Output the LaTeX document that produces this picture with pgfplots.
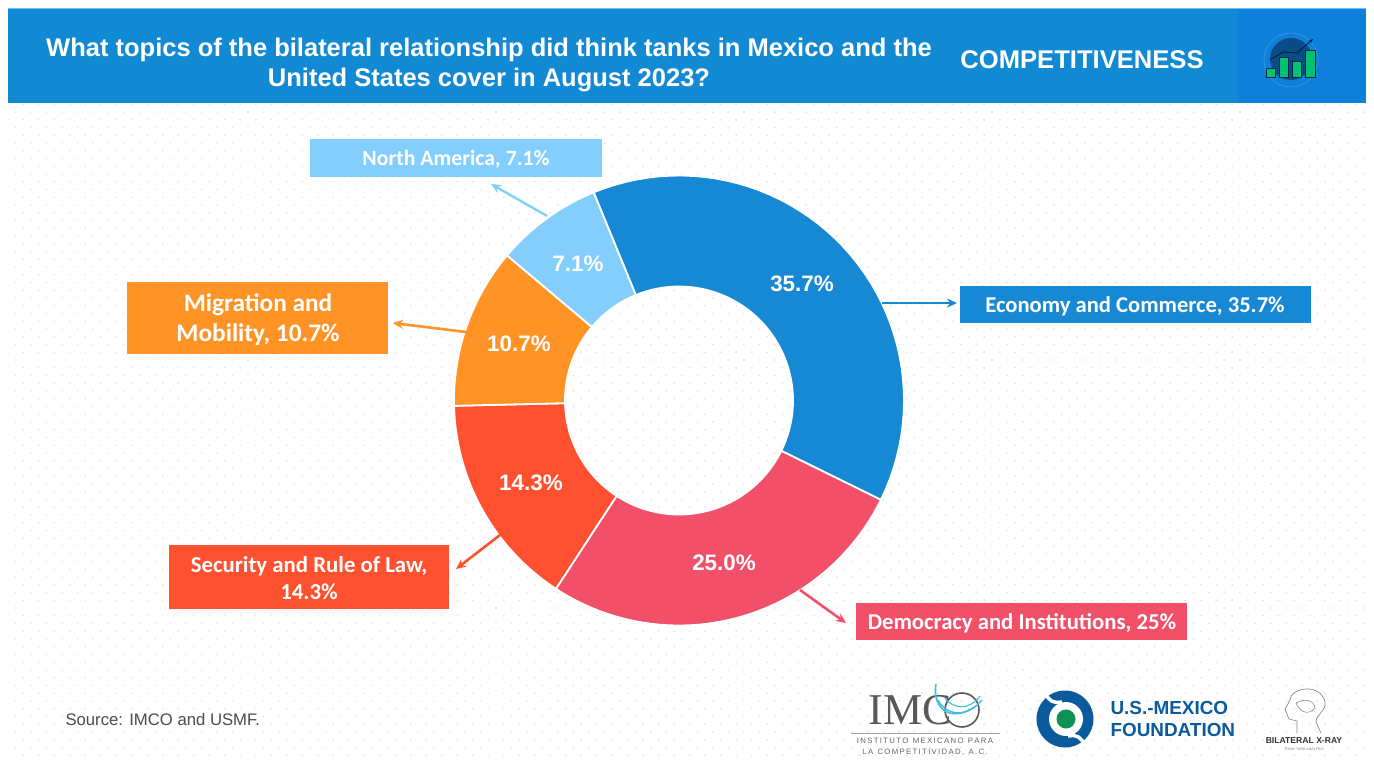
\documentclass[border=0pt]{standalone}
\usepackage{pgfplots}
\pgfplotsset{compat=1.18}
\usepackage{fontspec}
\setmainfont{Liberation Sans}
\newfontfamily\carl{Carlito}
\newfontfamily\lserif{Liberation Serif}
\usetikzlibrary{patterns.meta,arrows.meta}
\definecolor{cEco}{HTML}{1789D4}
\definecolor{cDem}{HTML}{F25069}
\definecolor{cSec}{HTML}{FF5030}
\definecolor{cMig}{HTML}{FF9326}
\definecolor{cNor}{HTML}{83CEFD}
\definecolor{cHead}{HTML}{1289D3}
\definecolor{cHeadB}{HTML}{0F80DA}
\definecolor{cDot}{HTML}{E2E2E2}
\definecolor{cUS}{HTML}{0B5A9E}
\definecolor{cCy}{HTML}{3FBFE0}
\definecolor{cGr}{HTML}{0E9155}
% Sector outlines are derived from the values (normalised to their sum, 92.8)
\def\cx{679}\def\cy{400.5}\def\Ro{225}\def\Ri{114}
\newcommand\buildsector[3]{% name, start value (cumulative), value
  \gdef\seclist{}%
  \pgfmathsetmacro\aS{-22.3+(#2/92.8)*360}%
  \pgfmathsetmacro\aD{(#3/92.8)*360/48}%
  \foreach \i in {0,...,48}{%
    \pgfmathsetmacro\ang{\aS+\i*\aD}%
    \pgfmathsetmacro\px{\cx+\Ro*sin(\ang)}%
    \pgfmathsetmacro\py{\cy-\Ro*cos(\ang)}%
    \xdef\seclist{\seclist (\px,\py)}%
  }%
  \foreach \i in {48,...,0}{%
    \pgfmathsetmacro\ang{\aS+\i*\aD}%
    \pgfmathsetmacro\px{\cx+\Ri*sin(\ang)}%
    \pgfmathsetmacro\py{\cy-\Ri*cos(\ang)}%
    \xdef\seclist{\seclist (\px,\py)}%
  }%
  \pgfmathsetmacro\px{\cx+\Ro*sin(\aS)}%
  \pgfmathsetmacro\py{\cy-\Ro*cos(\aS)}%
  \xdef\seclist{\seclist (\px,\py)}%
  \expandafter\global\expandafter\let\csname sector#1\endcsname\seclist
}
\buildsector{A}{0}{35.7}
\buildsector{B}{35.7}{25.0}
\buildsector{C}{60.7}{14.3}
\buildsector{D}{75.0}{10.7}
\buildsector{E}{85.7}{7.1}
\newcommand\plotsector[2]{%
  \edef\tmp{\noexpand\addplot[fill=#2,draw=white,line width=1.8pt,line join=round,no marks] coordinates {\csname sector#1\endcsname};}\tmp}
\begin{document}
\begin{tikzpicture}
\begin{axis}[
  scale only axis, width=1374pt, height=763pt,
  xmin=0, xmax=1374, ymin=0, ymax=763, y dir=reverse,
  hide axis, clip=true,
  every node/.append style={inner sep=0pt, outer sep=0pt},
]
% background
\fill[white] (axis cs:0,0) rectangle (axis cs:1374,763);
\fill[pattern={Dots[distance=10.96pt,angle=45,radius=1.05pt]},pattern color=cDot] (axis cs:8,104) rectangle (axis cs:1366,757);
% header
\fill[cHead] (axis cs:8,8) rectangle (axis cs:1366,103);
\fill[cHeadB] (axis cs:1238,8) rectangle (axis cs:1366,103);
\fill[cNor!80!cHead] (axis cs:8,7.5) rectangle (axis cs:1366,9);
\node[text=white,font=\bfseries\fontsize{25.5}{30}\selectfont,align=center] at (axis cs:489,65) {What topics of the bilateral relationship did think tanks in Mexico and the\\United States cover in August 2023?};
\node[text=white,font=\bfseries\fontsize{25.6}{30}\selectfont] at (axis cs:1082,60) {COMPETITIVENESS};
% header icon
\draw[white,opacity=0.15,line width=0.8pt] (axis cs:1291,60) circle[radius=27pt];
\fill[cUS!85!black] (axis cs:1291,59) circle[radius=21pt];
\fill[black!55!cUS] (axis cs:1266,68) rectangle (axis cs:1276,78);
\fill[black!55!cUS] (axis cs:1279,57) rectangle (axis cs:1289,78);
\fill[black!55!cUS] (axis cs:1292,61) rectangle (axis cs:1302,78);
\fill[black!55!cUS] (axis cs:1305,50) rectangle (axis cs:1316,78);
\fill[teal!60!green!80!cyan] (axis cs:1267,69) rectangle (axis cs:1275,77);
\fill[teal!60!green!80!cyan] (axis cs:1280,58) rectangle (axis cs:1288,77);
\fill[teal!60!green!80!cyan] (axis cs:1293,62) rectangle (axis cs:1301,77);
\fill[teal!60!green!80!cyan] (axis cs:1306,51) rectangle (axis cs:1315,77);
\draw[black!65!cUS,line width=0.9pt,-{Stealth[length=4pt]}] (axis cs:1270,60)--(axis cs:1283,52)--(axis cs:1297,53)--(axis cs:1313,39);
% donut
\plotsector{A}{cEco}
\plotsector{B}{cDem}
\plotsector{C}{cSec}
\plotsector{D}{cMig}
\plotsector{E}{cNor}
% value labels
\node[text=white,font=\bfseries\fontsize{22.4}{26}\selectfont] at (axis cs:802,284) {35.7\%};
\node[text=white,font=\bfseries\fontsize{22.4}{26}\selectfont] at (axis cs:724,563) {25.0\%};
\node[text=white,font=\bfseries\fontsize{22.4}{26}\selectfont] at (axis cs:531,483) {14.3\%};
\node[text=white,font=\bfseries\fontsize{22.4}{26}\selectfont] at (axis cs:519,344) {10.7\%};
\node[text=white,font=\bfseries\fontsize{22.4}{26}\selectfont] at (axis cs:578,264) {7.1\%};
% leader arrows
\draw[cNor,line width=2.3pt,-{Stealth[length=10pt,width=9pt]}] (axis cs:547,216)--(axis cs:491,184);
\draw[cEco,line width=2.3pt,-{Stealth[length=10pt,width=9pt]}] (axis cs:882,303)--(axis cs:957,303);
\draw[cMig,line width=2.6pt,-{Stealth[length=10pt,width=9pt]}] (axis cs:466,332)--(axis cs:393,323);
\draw[cSec,line width=2.6pt,-{Stealth[length=10pt,width=9pt]}] (axis cs:500,535)--(axis cs:456,569);
\draw[cDem,line width=2.6pt,-{Stealth[length=10pt,width=9pt]}] (axis cs:800,590)--(axis cs:846,623);
% callout boxes
\fill[cNor] (axis cs:310,139) rectangle (axis cs:602,177);
\node[text=white,font=\carl\bfseries\fontsize{21.8}{24}\selectfont] at (axis cs:456,159.5) {North America, 7.1\%};
\fill[cEco] (axis cs:960,286) rectangle (axis cs:1311,323);
\node[text=white,font=\carl\bfseries\fontsize{22.6}{24}\selectfont] at (axis cs:1135,306.5) {Economy and Commerce, 35.7\%};
\fill[cMig] (axis cs:127,282) rectangle (axis cs:388,354);
\node[text=white,font=\carl\bfseries\fontsize{25.3}{30.5}\selectfont,align=center] at (axis cs:258,319.5) {Migration and\\Mobility, 10.7\%};
\fill[cSec] (axis cs:169,545) rectangle (axis cs:449,609);
\node[text=white,font=\carl\bfseries\fontsize{22.8}{26.5}\selectfont,align=center] at (axis cs:309,578) {Security and Rule of Law,\\14.3\%};
\fill[cDem] (axis cs:856,603) rectangle (axis cs:1187,640);
\node[text=white,font=\carl\bfseries\fontsize{22.7}{24}\selectfont] at (axis cs:1022,623.5) {Democracy and Institutions, 25\%};
% source
\node[anchor=west,text=black!70,font=\fontsize{16.7}{20}\selectfont] at (axis cs:62,720) {Source: IMCO and USMF.};
% IMCO logo
\node[anchor=west,text=black!65,font=\lserif\fontsize{44}{44}\selectfont] at (axis cs:865,710) {IMC};
\draw[black!65,line width=1.6pt] (axis cs:962,710) circle[radius=17pt];
\draw[cCy,line width=1.6pt] (axis cs:936,684) .. controls (axis cs:932,708) and (axis cs:950,724) .. (axis cs:976,706);
\draw[cCy,line width=1.4pt] (axis cs:938,700) .. controls (axis cs:945,714) and (axis cs:965,720) .. (axis cs:982,700);
\draw[cCy,line width=1.1pt] (axis cs:945,698) .. controls (axis cs:952,708) and (axis cs:968,712) .. (axis cs:980,696);
\draw[black!35,line width=0.8pt] (axis cs:851,733) -- (axis cs:1000,733);
\node[text=black!60,font=\fontsize{7.8}{9}\selectfont] at (axis cs:925,741) {I\,N\,S\,T\,I\,T\,U\,T\,O\ \ M\,E\,X\,I\,C\,A\,N\,O\ \ P\,A\,R\,A};
\node[text=black!60,font=\fontsize{7.8}{9}\selectfont] at (axis cs:925,752) {L\,A\ \ C\,O\,M\,P\,E\,T\,I\,T\,I\,V\,I\,D\,A\,D\,,\ \ A\,.\,C\,.};
% USMF logo
\fill[cUS] (axis cs:1065,719) circle[radius=28.5pt];
\fill[white] (axis cs:1066,719) circle[radius=17pt];
\draw[white,line width=3.5pt] (axis cs:1042,690) .. controls (axis cs:1052,703) .. (axis cs:1062,702);
\draw[white,line width=3.5pt] (axis cs:1088,748) .. controls (axis cs:1078,735) .. (axis cs:1068,736);
\fill[cGr] (axis cs:1066,719) circle[radius=9.5pt];
\node[anchor=west,text=cUS,font=\bfseries\fontsize{18.9}{22}\selectfont] at (axis cs:1107,708) {U.S.-MEXICO};
\node[anchor=west,text=cUS,font=\bfseries\fontsize{18.9}{22}\selectfont] at (axis cs:1107,730) {FOUNDATION};
% Bilateral X-Ray logo
\draw[black!45,line width=0.7pt,line join=round] (axis cs:1297,733) -- (axis cs:1297,721) -- (axis cs:1289,719) -- (axis cs:1285,709) -- (axis cs:1290,700) .. controls (axis cs:1290,688) and (axis cs:1320,682) .. (axis cs:1325,702) .. controls (axis cs:1326,712) and (axis cs:1316,714) .. (axis cs:1316,722) -- (axis cs:1321,733);
\draw[black!45,line width=0.6pt] (axis cs:1296,703) .. controls (axis cs:1305,698) and (axis cs:1314,700) .. (axis cs:1315,708) .. controls (axis cs:1308,716) and (axis cs:1300,712) .. (axis cs:1296,703);
\node[text=black!80,font=\bfseries\fontsize{8.6}{9}\selectfont] at (axis cs:1304,741) {BILATERAL X-RAY};
\node[text=black!50,font=\fontsize{3.6}{5}\selectfont] at (axis cs:1304,749) {THINK TANK ANALYSIS};
\end{axis}
\end{tikzpicture}
\end{document}
